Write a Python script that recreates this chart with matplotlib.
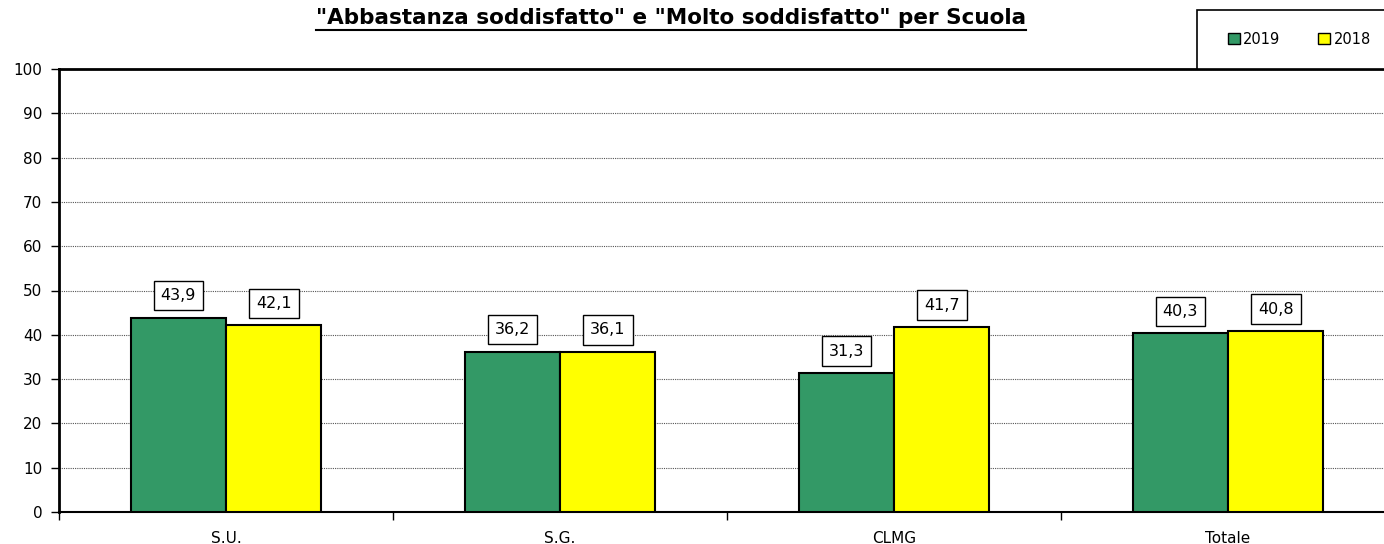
import numpy as np
import matplotlib.pyplot as plt
from matplotlib.patches import Patch, Rectangle

categories = ['S.U.', 'S.G.', 'CLMG', 'Totale']
values_2019 = [43.9, 36.2, 31.3, 40.3]
values_2018 = [42.1, 36.1, 41.7, 40.8]
title = '"Abbastanza soddisfatto" e "Molto soddisfatto" per Scuola'

green = '#339966'
yellow = '#FFFF00'

plt.rcParams['font.family'] = ['DejaVu Sans']

fig = plt.figure(figsize=(13.84, 5.44), dpi=100)
ax = fig.add_axes([59 / 1384, 32 / 544, 1336 / 1384, 443 / 544])

x = np.arange(len(categories))
w = 0.285
b1 = ax.bar(x - w / 2, values_2019, w, color=green, edgecolor='black', linewidth=1.5, zorder=3)
b2 = ax.bar(x + w / 2, values_2018, w, color=yellow, edgecolor='black', linewidth=1.5, zorder=3)

def fmt(v):
    return f'{v:.1f}'.replace('.', ',')

for bars, vals in ((b1, values_2019), (b2, values_2018)):
    for rect, v in zip(bars, vals):
        ax.annotate(fmt(v), xy=(rect.get_x() + rect.get_width() / 2, v),
                    xytext=(0, 16), textcoords='offset points',
                    ha='center', va='center', fontsize=11.5, zorder=5,
                    bbox=dict(boxstyle='square,pad=0.45', fc='white', ec='black', lw=1))

ax.set_xlim(-0.5, len(categories) - 0.5)
ax.set_ylim(0, 100)
ax.set_yticks(range(0, 101, 10))
ax.yaxis.grid(True, linestyle=(0, (1, 1)), color='#555555', linewidth=0.8, zorder=0)

# category labels centred, tick marks on the boundaries
ax.set_xticks(np.arange(-0.5, len(categories), 1))
ax.set_xticklabels([])
ax.set_xticks(x, minor=True)
ax.set_xticklabels(categories, minor=True)
ax.tick_params(axis='x', which='minor', length=0, pad=14, labelsize=11)
ax.tick_params(axis='x', which='major', length=6, direction='out', width=1)
ax.tick_params(axis='y', length=6, direction='out', width=1, labelsize=11, pad=6)

for s in ['left', 'top']:
    ax.spines[s].set_linewidth(2)
ax.spines['bottom'].set_linewidth(1.5)
ax.spines['right'].set_visible(False)

# legend box runs off the right edge and sits on the plot's top line
fig.add_artist(Rectangle((1197 / 1384, 1 - 69 / 544), 200 / 1384, 59 / 544,
                         transform=fig.transFigure, fc='white', ec='black', lw=1.2))
handles = [Patch(facecolor=green, edgecolor='black', label='2019'),
           Patch(facecolor=yellow, edgecolor='black', label='2018')]
fig.legend(handles=handles, loc='center left', bbox_to_anchor=(1228 / 1384, 1 - 39 / 544),
           ncol=2, frameon=False, fontsize=10.5,
           handlelength=0.8, handleheight=0.8, handletextpad=0.25, columnspacing=2.6,
           borderpad=0, borderaxespad=0)

t = fig.text(0.485, 1 - 18 / 544, title, ha='center', va='center', fontsize=15.5, fontweight='bold')
fig.canvas.draw()
bb = t.get_window_extent().transformed(fig.transFigure.inverted())
fig.add_artist(plt.Line2D([bb.x0, bb.x1], [bb.y0 - 0.004, bb.y0 - 0.004], color='black', lw=1.5,
                          transform=fig.transFigure))

fig.savefig('out.png', dpi=100)
